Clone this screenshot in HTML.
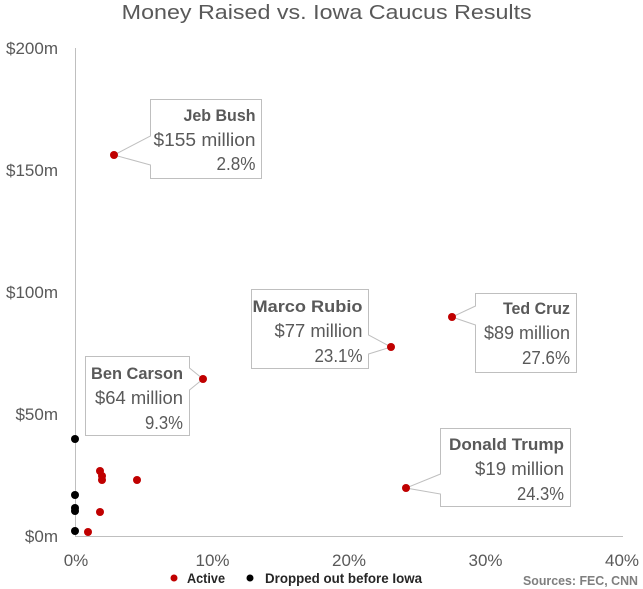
<!DOCTYPE html>
<html><head><meta charset="utf-8"><style>
html,body{margin:0;padding:0;background:#fff;}
svg{display:block;}
text{font-family:"Liberation Sans",Arial,sans-serif;}
</style></head><body>
<svg width="643" height="589" viewBox="0 0 643 589" xmlns="http://www.w3.org/2000/svg">
<rect width="643" height="589" fill="#fff"/>
<text x="121.7" y="19" font-size="20" fill="#595959" textLength="410" lengthAdjust="spacingAndGlyphs">Money Raised vs. Iowa Caucus Results</text>
<!-- axes -->
<line x1="75.5" y1="48" x2="75.5" y2="536" stroke="#bfbfbf" stroke-width="1"/>
<line x1="75" y1="536.5" x2="623" y2="536.5" stroke="#bfbfbf" stroke-width="1"/>
<g font-size="17" fill="#595959" text-anchor="end">
<text x="58" y="54">$200m</text>
<text x="58" y="176">$150m</text>
<text x="58" y="298">$100m</text>
<text x="58" y="420">$50m</text>
<text x="58" y="542">$0m</text>
</g>
<g font-size="17" fill="#595959" text-anchor="middle">
<text x="76" y="566">0%</text>
<text x="212.5" y="566">10%</text>
<text x="349" y="566">20%</text>
<text x="485.5" y="566">30%</text>
<text x="622" y="566">40%</text>
</g>
<!-- callouts -->
<g fill="#fff" stroke="#bfbfbf" stroke-width="1">
<path d="M150.5,99.5 H261.5 V178.5 H150.5 V165 L114,155 L150.5,136 Z"/>
<path d="M251.5,289.5 H368.5 V335 L391,347 L368.5,354 V368.5 H251.5 Z"/>
<path d="M475.5,293.5 H576.5 V372.5 H475.5 V325 L452,317 L475.5,306 Z"/>
<path d="M85.5,356.5 H189.5 V368 L203,379 L189.5,390 V435.5 H85.5 Z"/>
<path d="M440.5,428.5 H570.5 V506.5 H440.5 V494 L406,488 L440.5,474 Z"/>
</g>
<g fill="#595959" text-anchor="end">
<text x="255.5" y="121" font-size="16.5" font-weight="bold" textLength="72" lengthAdjust="spacingAndGlyphs">Jeb Bush</text>
<text x="255.5" y="146" font-size="18.5" textLength="102" lengthAdjust="spacingAndGlyphs">$155 million</text>
<text x="255.5" y="170" font-size="18.5" textLength="39" lengthAdjust="spacingAndGlyphs">2.8%</text>

<text x="362.5" y="312" font-size="16.5" font-weight="bold" textLength="110" lengthAdjust="spacingAndGlyphs">Marco Rubio</text>
<text x="362.5" y="337" font-size="18.5" textLength="88" lengthAdjust="spacingAndGlyphs">$77 million</text>
<text x="362.5" y="362" font-size="18.5" textLength="48" lengthAdjust="spacingAndGlyphs">23.1%</text>

<text x="570" y="314" font-size="16.5" font-weight="bold" textLength="67" lengthAdjust="spacingAndGlyphs">Ted Cruz</text>
<text x="570" y="339" font-size="18.5" textLength="86" lengthAdjust="spacingAndGlyphs">$89 million</text>
<text x="570" y="364" font-size="18.5" textLength="48" lengthAdjust="spacingAndGlyphs">27.6%</text>

<text x="183" y="379" font-size="16.5" font-weight="bold" textLength="92" lengthAdjust="spacingAndGlyphs">Ben Carson</text>
<text x="183" y="404" font-size="18.5" textLength="88" lengthAdjust="spacingAndGlyphs">$64 million</text>
<text x="183" y="429" font-size="18.5" textLength="38" lengthAdjust="spacingAndGlyphs">9.3%</text>

<text x="564" y="450" font-size="16.5" font-weight="bold" textLength="115" lengthAdjust="spacingAndGlyphs">Donald Trump</text>
<text x="564" y="475" font-size="18.5" textLength="89" lengthAdjust="spacingAndGlyphs">$19 million</text>
<text x="564" y="500" font-size="18.5" textLength="47" lengthAdjust="spacingAndGlyphs">24.3%</text>
</g>
<!-- dots -->
<g fill="#000">
<circle cx="75" cy="439" r="4"/>
<circle cx="75" cy="495" r="4"/>
<circle cx="75" cy="508" r="4"/>
<circle cx="75" cy="511" r="4"/>
<circle cx="75" cy="531" r="4"/>
</g>
<g fill="#c00000">
<circle cx="100" cy="471" r="4"/>
<circle cx="102" cy="476" r="4"/>
<circle cx="102" cy="480" r="4"/>
<circle cx="137" cy="480" r="4"/>
<circle cx="100" cy="512" r="4"/>
<circle cx="88" cy="532" r="4"/>
<circle cx="114" cy="155" r="4"/>
<circle cx="391" cy="347" r="4"/>
<circle cx="452" cy="317" r="4"/>
<circle cx="203" cy="379" r="4"/>
<circle cx="406" cy="488" r="4"/>
</g>
<!-- legend -->
<circle cx="174" cy="578" r="3.5" fill="#c00000"/>
<text x="187" y="583" font-size="13.5" font-weight="bold" fill="#262626" textLength="38" lengthAdjust="spacingAndGlyphs">Active</text>
<circle cx="250" cy="578" r="3.5" fill="#000"/>
<text x="265" y="583" font-size="13.5" font-weight="bold" fill="#262626" textLength="157" lengthAdjust="spacingAndGlyphs">Dropped out before Iowa</text>
<text x="523" y="585" font-size="13" font-weight="bold" fill="#7f7f7f" textLength="115" lengthAdjust="spacingAndGlyphs">Sources: FEC, CNN</text>
</svg>
</body></html>
